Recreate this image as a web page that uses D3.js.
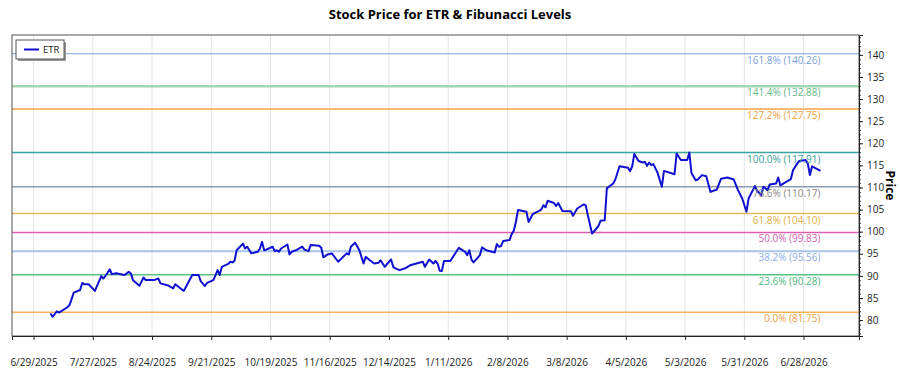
<!DOCTYPE html>
<html>
<head>
<meta charset="utf-8">
<script src="https://cdn.jsdelivr.net/npm/d3@7"></script>
<style>
  body { margin: 0; background: #fff; }
  svg { display: block; font-family: "Open Sans", "Noto Sans", sans-serif; }
</style>
</head>
<body>
<svg id="chart" width="900" height="375"></svg>
<script>
const dates = ['2025-07-07','2025-07-08','2025-07-10','2025-07-11','2025-07-15','2025-07-16','2025-07-18','2025-07-21','2025-07-22','2025-07-23',
  '2025-07-25','2025-07-28','2025-07-31','2025-08-01','2025-08-03','2025-08-04','2025-08-05','2025-08-07','2025-08-11','2025-08-13',
  '2025-08-14','2025-08-15','2025-08-18','2025-08-20','2025-08-21','2025-08-25','2025-08-27','2025-08-28','2025-09-01','2025-09-03',
  '2025-09-04','2025-09-08','2025-09-11','2025-09-12','2025-09-15','2025-09-16','2025-09-18','2025-09-19','2025-09-22','2025-09-24',
  '2025-09-25','2025-09-26','2025-09-29','2025-09-30','2025-10-01','2025-10-02','2025-10-03','2025-10-06','2025-10-07','2025-10-08',
  '2025-10-09','2025-10-10','2025-10-13','2025-10-14','2025-10-15','2025-10-16','2025-10-17','2025-10-20','2025-10-21','2025-10-22',
  '2025-10-23','2025-10-24','2025-10-27','2025-10-28','2025-10-29','2025-10-31','2025-11-03','2025-11-04','2025-11-06','2025-11-07',
  '2025-11-11','2025-11-12','2025-11-13','2025-11-15','2025-11-17','2025-11-20','2025-11-24','2025-11-25','2025-11-26','2025-11-28',
  '2025-11-30','2025-12-02','2025-12-03','2025-12-05','2025-12-07','2025-12-09','2025-12-10','2025-12-12','2025-12-14','2025-12-15',
  '2025-12-16','2025-12-17','2025-12-19','2025-12-22','2025-12-24','2025-12-30','2025-12-31','2026-01-02','2026-01-04','2026-01-05',
  '2026-01-06','2026-01-07','2026-01-08','2026-01-09','2026-01-12','2026-01-14','2026-01-16','2026-01-19','2026-01-20','2026-01-21',
  '2026-01-22','2026-01-23','2026-01-26','2026-01-27','2026-01-29','2026-02-02','2026-02-03','2026-02-04','2026-02-05','2026-02-06',
  '2026-02-09','2026-02-10','2026-02-11','2026-02-12','2026-02-13','2026-02-17','2026-02-18','2026-02-20','2026-02-23','2026-02-24',
  '2026-02-25','2026-02-26','2026-02-27','2026-03-02','2026-03-03','2026-03-04','2026-03-06','2026-03-10','2026-03-11','2026-03-13',
  '2026-03-16','2026-03-17','2026-03-18','2026-03-20','2026-03-21','2026-03-23','2026-03-24','2026-03-26','2026-03-27','2026-03-30',
  '2026-03-31','2026-04-02','2026-04-06','2026-04-07','2026-04-08','2026-04-09','2026-04-11','2026-04-13','2026-04-14','2026-04-15',
  '2026-04-16','2026-04-17','2026-04-18','2026-04-20','2026-04-22','2026-04-23','2026-04-28','2026-04-29','2026-05-01','2026-05-04',
  '2026-05-05','2026-05-06','2026-05-08','2026-05-09','2026-05-11','2026-05-13','2026-05-15','2026-05-18','2026-05-20','2026-05-23',
  '2026-05-26','2026-05-28','2026-05-30','2026-06-01','2026-06-02','2026-06-05','2026-06-06','2026-06-08','2026-06-09','2026-06-11',
  '2026-06-12','2026-06-15','2026-06-16','2026-06-17','2026-06-22','2026-06-23','2026-06-25','2026-06-26','2026-06-29','2026-06-30',
  '2026-07-01','2026-07-02','2026-07-06'];

const prices = [81.5,80.75,82.0,81.7,82.9,83.4,86.2,86.8,88.4,88.1,
  88.1,86.6,89.95,89.4,90.7,91.5,90.4,90.6,90.2,90.9,
  90.55,89.0,87.75,89.65,89.05,89.05,89.4,88.3,87.75,87.2,
  88.1,86.6,89.3,90.2,90.2,88.8,87.7,88.4,89.05,91.3,
  90.2,92.05,92.7,93.2,93.05,93.4,95.8,97.3,96.2,96.6,
  95.8,95.1,95.45,96.2,97.7,95.8,95.95,96.6,95.6,95.8,
  95.45,96.2,97.1,94.85,95.45,95.8,96.6,95.95,95.6,97.0,
  96.8,96.35,94.2,94.85,95.1,93.2,95.1,94.85,96.6,97.5,
  95.8,92.8,94.3,93.55,92.8,92.95,93.55,92.05,93.2,93.7,
  92.05,91.7,91.3,91.8,92.4,93.2,92.05,93.7,92.8,93.4,
  92.8,91.15,91.1,93.35,93.35,94.85,96.35,95.45,94.7,95.8,
  93.7,93.05,94.7,96.45,95.8,95.3,97.2,96.6,96.75,97.9,
  98.1,99.45,100.2,102.2,104.9,104.5,102.2,104.0,104.7,105.0,
  106.0,105.5,107.0,106.5,105.8,106.5,104.7,104.65,103.6,105.25,
  106.15,106.0,103.75,99.6,100.1,101.25,102.45,102.6,109.8,110.9,
  111.8,114.8,114.45,113.7,114.8,117.6,116.0,115.65,115.8,114.9,
  115.65,115.05,115.3,113.3,110.15,113.75,113.0,117.7,116.2,116.2,
  117.91,113.3,111.65,111.8,112.8,112.55,109.0,109.55,112.0,112.25,
  111.8,109.4,107.5,104.5,107.5,110.3,109.25,108.3,110.15,109.4,
  110.7,110.9,112.25,110.5,111.9,113.9,115.4,116.0,116.2,115.4,
  112.8,114.8,113.75];

const fibRatios = [0, 0.236, 0.382, 0.5, 0.618, 0.786, 1, 1.272, 1.414, 1.618];
const fibLevels = [81.75, 90.28, 95.56, 99.83, 104.10, 110.17, 117.91, 127.75, 132.88, 140.26];
const fibColors = ['#f6b15a', '#5cbf85', '#a9c4ec', '#d95fb0', '#ebbb62', '#8c9bb0', '#3aa6a0', '#f5a54a', '#9fd6b4', '#7b9ede'];
const fibTextColors = ['#f0a040', '#4fb87a', '#8aaeea', '#d060a8', '#e2ae45', '#888888', '#3a9f99', '#f0a040', '#5fb88a', '#7d9fe0'];
const fibWidths = [1.5, 1.5, 2, 1.5, 1.5, 1.5, 1.5, 1.5, 2.5, 1];

const yTicks = d3.range(80, 141, 5);
const yDomain = [76.4, 144.5];
const tickStart = new Date(2025, 5, 29);

const parse = d3.timeParse('%Y-%m-%d');
const data = dates.map((d, i) => ({ date: parse(d), price: prices[i] }));

const svg = d3.select('#chart');
const margin = { top: 35, right: 41, bottom: 39, left: 12 };
const width = 900 - margin.left - margin.right;
const height = 375 - margin.top - margin.bottom;

const ext = d3.extent(data, d => d.date);
const pad = (ext[1] - ext[0]) * 0.05;
const x = d3.scaleTime()
  .domain([new Date(+ext[0] - pad), new Date(+ext[1] + pad)])
  .range([0, width]);
const y = d3.scaleLinear().domain(yDomain).range([height, 0]);

const g = svg.append('g').attr('transform', `translate(${margin.left},${margin.top})`);

// x ticks every 28 days
const xTicks = d3.range(0, 14).map(i => d3.timeDay.offset(tickStart, i * 28));

// vertical grid
g.append('g')
  .selectAll('line')
  .data(xTicks)
  .join('line')
  .attr('x1', d => x(d)).attr('x2', d => x(d))
  .attr('y1', 0).attr('y2', height)
  .attr('stroke', '#e4e4e4')
  .attr('stroke-width', 1);

// fib lines
g.append('g')
  .selectAll('line')
  .data(fibLevels)
  .join('line')
  .attr('x1', 0).attr('x2', width)
  .attr('y1', d => y(d)).attr('y2', d => y(d))
  .attr('stroke', (d, i) => fibColors[i])
  .attr('stroke-width', (d, i) => fibWidths[i]);

// price line
const line = d3.line().x(d => x(d.date)).y(d => y(d.price));
g.append('path')
  .datum(data)
  .attr('fill', 'none')
  .attr('stroke', '#1010d0')
  .attr('stroke-width', 2)
  .attr('stroke-linejoin', 'round')
  .attr('d', line);

// fib labels
const labelX = x(ext[1]);
g.append('g')
  .selectAll('text')
  .data(fibLevels)
  .join('text')
  .attr('x', labelX)
  .attr('y', d => y(d) + 10)
  .attr('text-anchor', 'end')
  .attr('font-size', 10)
  .attr('fill', (d, i) => fibTextColors[i])
  .text((d, i) => `${(fibRatios[i] * 100).toFixed(1)}% (${d.toFixed(2)})`);

// frame
g.append('rect')
  .attr('x', 0).attr('y', 0)
  .attr('width', width).attr('height', height)
  .attr('fill', 'none')
  .attr('stroke', '#555')
  .attr('stroke-width', 1);

// x axis
const fmt = d => `${d.getMonth() + 1}/${d.getDate()}/${d.getFullYear()}`;
const xAxis = g.append('g')
  .attr('transform', `translate(0,${height})`)
  .call(d3.axisBottom(x).tickValues(xTicks).tickFormat(fmt).tickSize(4).tickPadding(19));
xAxis.select('.domain').attr('stroke', '#222');
xAxis.selectAll('text').attr('font-size', 10).attr('fill', '#222').style('font-family', '"Open Sans", sans-serif');
xAxis.selectAll('line').attr('stroke', '#222');

// y axis on right with minor ticks
const yMinor = g.append('g')
  .attr('transform', `translate(${width},0)`)
  .call(d3.axisRight(y).tickValues(d3.range(77, 145, 1)).tickFormat('').tickSize(2));
yMinor.select('.domain').remove();
yMinor.selectAll('line').attr('stroke', '#444');

const yAxis = g.append('g')
  .attr('transform', `translate(${width},0)`)
  .call(d3.axisRight(y).tickValues(yTicks).tickSize(4).tickPadding(4));
yAxis.select('.domain').attr('stroke', '#222');
yAxis.selectAll('text').attr('font-size', 10).attr('fill', '#222').style('font-family', '"Open Sans", sans-serif');
yAxis.selectAll('line').attr('stroke', '#222');

// y label
svg.append('text')
  .attr('transform', `translate(886,${margin.top + height / 2}) rotate(90)`)
  .attr('text-anchor', 'middle')
  .attr('font-size', 12)
  .attr('font-weight', 'bold')
  .text('Price');

// title
svg.append('text')
  .attr('x', 450).attr('y', 19)
  .attr('text-anchor', 'middle')
  .attr('font-size', 13)
  .attr('font-weight', 'bold')
  .text('Stock Price for ETR & Fibunacci Levels');

// legend
const lg = svg.append('g').attr('transform', 'translate(16,40)');
lg.append('rect').attr('x', 2).attr('y', 2).attr('width', 48).attr('height', 19).attr('fill', '#999');
lg.append('rect').attr('width', 48).attr('height', 19).attr('fill', '#fff').attr('stroke', '#555');
lg.append('line').attr('x1', 8).attr('x2', 23).attr('y1', 9.5).attr('y2', 9.5)
  .attr('stroke', '#1010d0').attr('stroke-width', 2);
lg.append('text').attr('x', 27).attr('y', 13).attr('font-size', 9.5).attr('fill', '#222').text('ETR');
</script>
</body>
</html>
